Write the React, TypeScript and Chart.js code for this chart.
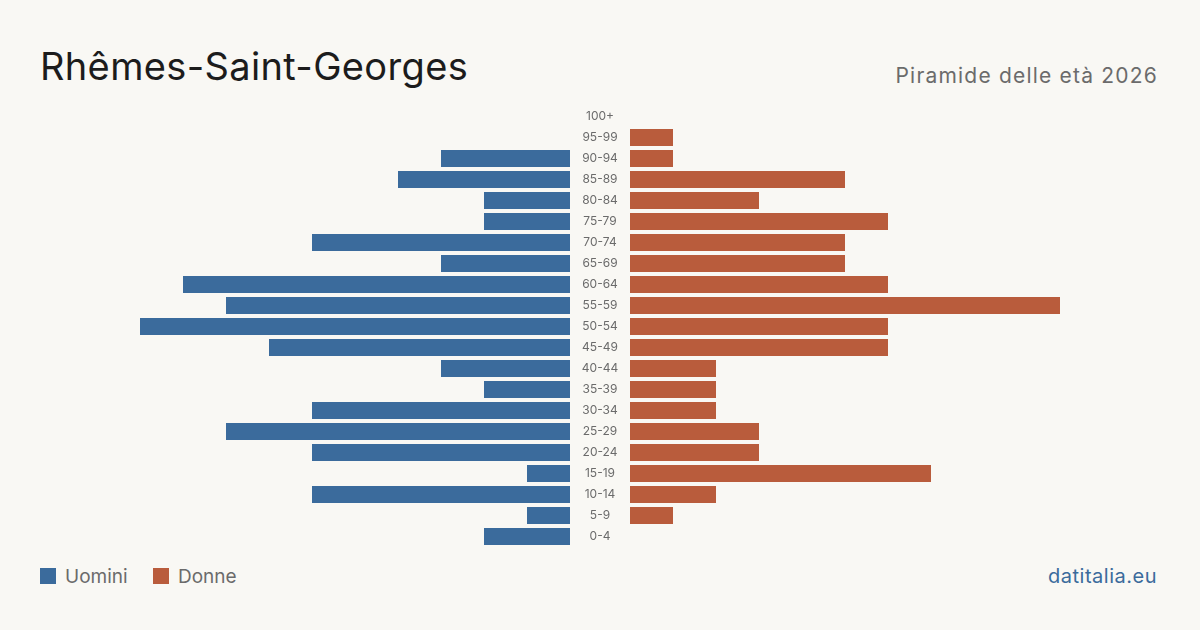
import React, { useEffect, useRef } from "react";
import { Chart, registerables } from "chart.js";

Chart.register(...registerables);

// Age bands, top of the pyramid first
const ageGroups = [
  "100+", "95-99", "90-94", "85-89", "80-84", "75-79", "70-74", "65-69",
  "60-64", "55-59", "50-54", "45-49", "40-44", "35-39", "30-34", "25-29",
  "20-24", "15-19", "10-14", "5-9", "0-4",
];

// Residents per age band
const men = [0, 0, 3, 4, 2, 2, 6, 3, 9, 8, 10, 7, 3, 2, 6, 8, 6, 1, 6, 1, 2];
const women = [0, 1, 1, 5, 3, 6, 5, 5, 6, 10, 6, 6, 2, 2, 2, 3, 3, 7, 2, 1, 0];

const BLUE = "#3b6b9c";
const ORANGE = "#b95c3c";
const BG = "#f9f8f4";
const GREY = "#6b6b6b";
const FONT = "Inter, 'Noto Sans', sans-serif";

const axisMax = Math.max(...men, ...women);

export default function App() {
  const leftRef = useRef<HTMLCanvasElement>(null);
  const rightRef = useRef<HTMLCanvasElement>(null);

  useEffect(() => {
    const labelFont = "12px " + FONT;
    const ctx = document.createElement("canvas").getContext("2d")!;
    ctx.font = labelFont;
    const widest = Math.max(...ageGroups.map((a) => ctx.measureText(a).width));

    const common: any = {
      indexAxis: "y",
      responsive: false,
      maintainAspectRatio: false,
      animation: false,
      layout: { padding: 0 },
      plugins: { legend: { display: false }, tooltip: { enabled: false } },
    };

    const left = new Chart(leftRef.current!, {
      type: "bar",
      data: {
        labels: ageGroups,
        datasets: [
          {
            label: "Uomini",
            data: men,
            backgroundColor: BLUE,
            barPercentage: 0.81,
            categoryPercentage: 1,
          },
        ],
      },
      options: {
        ...common,
        scales: {
          x: { display: false, min: 0, max: axisMax, reverse: true },
          y: { display: false },
        },
      },
    });

    const right = new Chart(rightRef.current!, {
      type: "bar",
      data: {
        labels: ageGroups,
        datasets: [
          {
            label: "Donne",
            data: women,
            backgroundColor: ORANGE,
            barPercentage: 0.81,
            categoryPercentage: 1,
          },
        ],
      },
      options: {
        ...common,
        scales: {
          x: { display: false, min: 0, max: axisMax },
          y: {
            position: "left",
            grid: { display: false, drawTicks: false },
            border: { display: false },
            // fixed 60px gutter between the two halves; no vertical padding
            afterFit: (scale: any) => {
              scale.width = 60;
              scale.paddingTop = 0;
              scale.paddingBottom = 0;
            },
            ticks: {
              crossAlign: "center",
              padding: 30 - widest / 2,
              color: GREY,
              font: { family: FONT, size: 12 },
            },
          },
        },
      },
    });

    return () => {
      left.destroy();
      right.destroy();
    };
  }, []);

  const text = (extra: React.CSSProperties): React.CSSProperties => ({
    position: "absolute",
    fontFamily: FONT,
    lineHeight: 1,
    whiteSpace: "nowrap",
    ...extra,
  });

  const swatch = (left: number, color: string): React.CSSProperties => ({
    position: "absolute",
    left,
    top: 568,
    width: 16,
    height: 16,
    background: color,
  });

  return (
    <div
      style={{
        position: "absolute",
        left: 0,
        top: 0,
        width: 1200,
        height: 630,
        background: BG,
        overflow: "hidden",
      }}
    >
      <div style={text({ left: 40, top: 47, fontSize: 38, letterSpacing: 0.35, color: "#1c1c1c" })}>
        Rhêmes-Saint-Georges
      </div>
      <div style={text({ right: 42, top: 65, fontSize: 21, letterSpacing: 1.2, color: GREY })}>
        Piramide delle età 2026
      </div>

      <canvas
        ref={leftRef}
        width={430}
        height={441}
        style={{ position: "absolute", left: 140, top: 106, width: 430, height: 441 }}
      />
      <canvas
        ref={rightRef}
        width={490}
        height={441}
        style={{ position: "absolute", left: 570, top: 106, width: 490, height: 441 }}
      />

      <div style={swatch(40, BLUE)} />
      <div style={text({ left: 65, top: 567, fontSize: 19, color: GREY })}>Uomini</div>
      <div style={swatch(153, ORANGE)} />
      <div style={text({ left: 178, top: 567, fontSize: 19, color: GREY })}>Donne</div>

      <div style={text({ right: 43, top: 566, fontSize: 20, letterSpacing: 0.5, color: BLUE })}>
        datitalia.eu
      </div>
    </div>
  );
}
